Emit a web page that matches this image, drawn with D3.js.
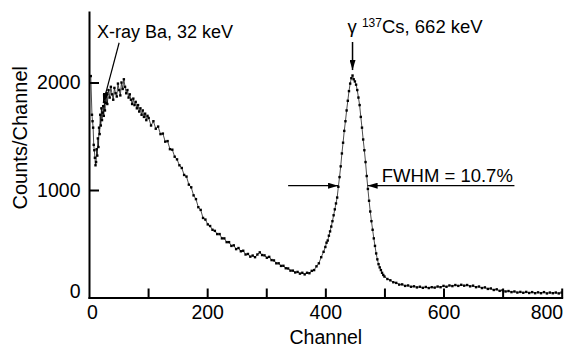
<!DOCTYPE html>
<html>
<head>
<meta charset="utf-8">
<script src="https://cdn.jsdelivr.net/npm/d3@7"></script>
<style>
  body { margin: 0; background: #fff; }
  text { font-family: "Liberation Sans", Arial, sans-serif; fill: #000; }
</style>
</head>
<body>
<div class="canvas"></div>
<script>
// spectrum data
const channels = [
  3, 5, 6, 7, 8, 9, 10, 11, 12, 13, 14, 15, 16, 17, 18, 19, 20, 21, 22, 23, 24, 25, 26, 27, 28, 29, 30,
  31, 33, 35, 37, 39, 41, 43, 45, 47, 49, 51, 53, 55, 57, 59, 61, 63, 65, 67, 69, 71, 73, 75, 77, 79,
  81, 83, 85, 87, 89, 91, 93, 95, 97, 99,
  101, 105, 109, 113, 117, 121, 125, 129, 133, 137, 141, 145, 149, 153, 157, 161, 165, 169, 173, 177,
  181, 185, 189, 193, 197, 201, 205, 209, 213, 217, 221, 225, 229, 233, 237, 241, 245, 249, 253, 257,
  261, 265, 269, 273, 277, 281, 285, 289, 293, 297, 301, 305, 309, 313, 317, 321, 325, 329, 333, 337,
  341, 345, 349, 353, 357, 361, 365, 369, 373, 377, 381, 385, 389, 393, 397,
  400, 402, 404, 406, 408, 410, 412, 414, 416, 418, 420, 422, 424, 426, 428, 430, 432, 434, 436, 438,
  440, 442, 444, 446, 448, 450, 452, 454, 456, 458, 460, 462, 464, 466, 468, 470, 472, 474, 476, 478,
  480, 482, 484, 486, 488, 490, 492, 494, 496, 498, 500,
  505, 510, 515, 520, 525, 530, 535, 540, 545, 550, 555, 560, 565, 570, 575, 580, 585, 590, 595, 600,
  605, 610, 615, 620, 625, 630, 635, 640, 645, 650, 655, 660, 665, 670, 675, 680, 685, 690, 695, 700,
  705, 710, 715, 720, 725, 730, 735, 740, 745, 750, 755, 760, 765, 770, 775, 780, 785, 790, 795, 800
];
const counts = [
  2060, 1700, 1640, 1580, 1420, 1370, 1300, 1230, 1260, 1380, 1320, 1480, 1400, 1580, 1520, 1700, 1600, 1760, 1650, 1720, 1780, 1690, 1820, 1740, 1870, 1810, 1900,
  1800, 1930, 1860, 1960, 1890, 1840, 1950, 1900, 1870, 1990, 1930, 1880, 2000, 1940, 2030, 1960, 1900, 1930, 1860, 1890, 1840, 1800, 1850, 1790, 1820,
  1760, 1790, 1730, 1760, 1700, 1740, 1680, 1710, 1650, 1690,
  1670, 1600, 1640, 1570, 1590, 1520, 1525, 1450, 1455, 1380, 1375, 1310, 1285, 1230, 1205, 1140, 1125, 1050, 1025, 950,
  915, 840, 815, 740, 725, 680, 665, 630, 620, 590, 590, 550, 550, 515, 515, 480, 485, 450, 460, 430,
  435, 400, 405, 380, 390, 375, 400, 420, 395, 392, 370, 378, 348, 345, 318, 318, 294, 295, 272, 270,
  250, 250, 233, 238, 222, 230, 215, 230, 226, 248, 255, 290, 318, 375, 425,
  470, 510, 530, 575, 615, 660, 710, 765, 820, 875, 930, 1030, 1120, 1220, 1340, 1440, 1550, 1640, 1740, 1830,
  1920, 1990, 2040, 2065, 2030, 2010, 1980, 1930, 1860, 1790, 1680, 1580, 1470, 1370, 1260, 1130, 1010, 900, 800, 710,
  630, 550, 480, 410, 355, 310, 280, 255, 230, 210, 195,
  172, 160, 142, 136, 120, 122, 108, 112, 100, 104, 94, 100, 90, 98, 88, 96, 92, 102, 96, 108,
  100, 112, 106, 116, 108, 118, 110, 116, 104, 110, 96, 102, 88, 94, 80, 84, 70, 76, 62, 68,
  56, 60, 50, 56, 46, 52, 44, 52, 42, 50, 40, 48, 40, 50, 38, 46, 40, 46, 38, 46
];

const xTickValues = [0, 100, 200, 300, 400, 500, 600, 700, 800];
const yTickValues = [0, 1000, 2000];

const width = 566, height = 349;

const svg = d3.select('.canvas').append('svg')
  .attr("width", width)
  .attr("height", height);

const x = d3.scaleLinear().domain([0, 800]).range([89, 561.7]);
const y = d3.scaleLinear().domain([0, 2656]).range([297.5, 12]);

// arrow heads
const defs = svg.append('defs');
defs.append('marker')
  .attr("id", "arrow")
  .attr("viewBox", "0 0 10 6")
  .attr("refX", 10)
  .attr("refY", 3)
  .attr("markerUnits", "userSpaceOnUse")
  .attr("markerWidth", 10)
  .attr("markerHeight", 6)
  .attr("orient", "auto")
  .append('path')
  .attr("d", "M0,0L10,3L0,6Z")
  .attr("fill", "#000");

// axes
const xAxis = d3.axisBottom(x)
  .tickValues(xTickValues)
  .tickFormat(d => d % 200 === 0 ? d : "")
  .tickSizeInner(-9)
  .tickSizeOuter(0)
  .tickPadding(8);

const yAxis = d3.axisLeft(y)
  .tickValues(yTickValues)
  .tickFormat(d => d)
  .tickSizeInner(-10)
  .tickSizeOuter(0)
  .tickPadding(8.5);

const xAxisGroup = svg.append('g')
  .attr("transform", `translate(0 ${y(0)})`)
  .call(xAxis);

const yAxisGroup = svg.append('g')
  .attr("transform", `translate(${x(0)} 0)`)
  .call(yAxis);

[xAxisGroup, yAxisGroup].forEach(g => {
  g.select('.domain').attr("stroke", "#000").attr("stroke-width", 2).attr("stroke-linecap", "square");
  g.selectAll('.tick line').attr("stroke", "#000").attr("stroke-width", 2);
  g.selectAll('.tick text')
    .style("font-family", '"Liberation Sans", Arial, sans-serif')
    .style("font-size", "19.5px")
    .attr("fill", "#000");
});
yAxisGroup.selectAll('.tick line').filter(d => d === 0).remove();
xAxisGroup.selectAll('.tick line').filter(d => d === 0).remove();
// the corner labels sit a little off their ticks in the original
yAxisGroup.selectAll('.tick text').filter(d => d === 0).attr("dy", "0.02em");
xAxisGroup.selectAll('.tick text').filter(d => d === 0).attr("x", 3);
xAxisGroup.selectAll('.tick text').filter(d => d === 800).attr("text-anchor", "end").attr("x", 1);

// axis titles
svg.append('text')
  .attr("x", (x(0) + x(800)) / 2 + 0.5)
  .attr("y", 344)
  .attr("text-anchor", "middle")
  .style("font-size", "19.5px")
  .text("Channel");

svg.append('text')
  .attr("transform", `translate(26.5 ${(y(0) + y(2656)) / 2 - 17}) rotate(-90)`)
  .attr("text-anchor", "middle")
  .style("font-size", "20px")
  .text("Counts/Channel");

// the spectrum
const points = channels.map((c, i) => ({ ch: c, v: counts[i] }));

const line = d3.line()
  .x(d => x(d.ch))
  .y(d => y(d.v));

svg.append('path')
  .datum(points)
  .attr("d", line)
  .attr("fill", "none")
  .attr("stroke", "#000")
  .attr("stroke-width", 0.7);

svg.append('g').selectAll('rect')
  .data(points)
  .enter().append('rect')
  .attr("x", d => x(d.ch) - 1.2)
  .attr("y", d => y(d.v) - 1.2)
  .attr("width", 2.4)
  .attr("height", 2.4)
  .attr("fill", "#000");

// annotations
const ann = svg.append('g');

// X-ray Ba
ann.append('text')
  .attr("x", x(13.5))
  .attr("y", y(2414))
  .style("font-size", "18px")
  .text("X-ray Ba, 32 keV");
ann.append('line')
  .attr("x1", x(51)).attr("y1", y(2370))
  .attr("x2", x(24)).attr("y2", y(1810))
  .attr("stroke", "#000").attr("stroke-width", 1.2)
  .attr("marker-end", "url(#arrow)");

// gamma peak
const peakCh = 446;
const gLabel = ann.append('text')
  .attr("x", x(peakCh) - 5)
  .attr("y", y(2414) - 5)
  .style("font-size", "18.5px");
gLabel.append('tspan').text("γ ");
gLabel.append('tspan').attr("dy", -6).style("font-size", "12px").text("137");
gLabel.append('tspan').attr("dy", 6).text("Cs, 662 keV");
ann.append('line')
  .attr("x1", x(peakCh)).attr("y1", y(2377))
  .attr("x2", x(peakCh)).attr("y2", y(2116))
  .attr("stroke", "#000").attr("stroke-width", 1.5)
  .attr("marker-end", "url(#arrow)");

// FWHM
const halfMax = 1040;
const fwhmLeft = 421.5, fwhmRight = 471.5;
ann.append('line')
  .attr("x1", x(337)).attr("y1", y(halfMax))
  .attr("x2", x(fwhmLeft)).attr("y2", y(halfMax))
  .attr("stroke", "#000").attr("stroke-width", 1.2)
  .attr("marker-end", "url(#arrow)");
ann.append('line')
  .attr("x1", x(720)).attr("y1", y(halfMax))
  .attr("x2", x(fwhmRight)).attr("y2", y(halfMax))
  .attr("stroke", "#000").attr("stroke-width", 1.2)
  .attr("marker-end", "url(#arrow)");
ann.append('text')
  .attr("x", x(495.5))
  .attr("y", y(halfMax) - 4)
  .style("font-size", "18.5px")
  .text("FWHM = 10.7%");
</script>
</body>
</html>
